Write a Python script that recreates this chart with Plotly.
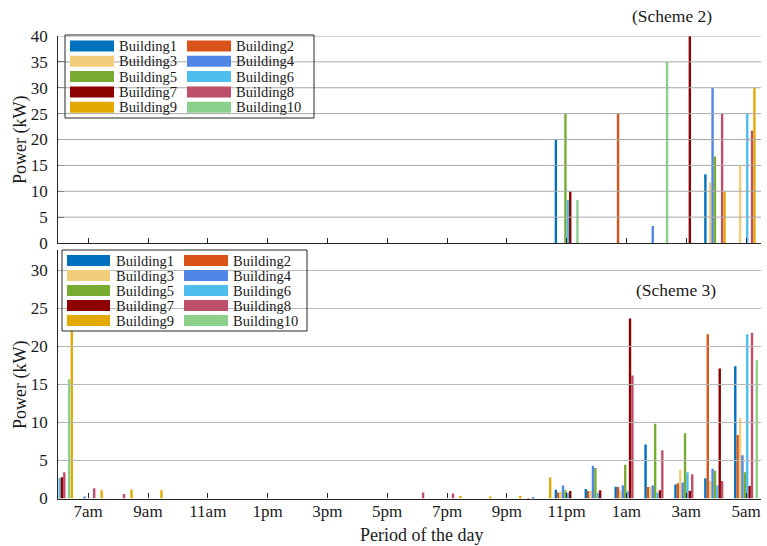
import plotly.graph_objects as go

W, H = 767, 546
FONT = "Liberation Serif"

# Hourly slots: 1 = 6am ... 24 = 5am (next day)
slots = list(range(1, 25))
tick_slots = list(range(2, 25, 2))
tick_labels = ["7am", "9am", "11am", "1pm", "3pm", "5pm",
               "7pm", "9pm", "11pm", "1am", "3am", "5am"]

buildings = ["Building1", "Building2", "Building3", "Building4", "Building5",
             "Building6", "Building7", "Building8", "Building9", "Building10"]
colors = ["#0072BD", "#D95319", "#F2CE7A", "#5286E6", "#77AC30",
          "#4DBEEE", "#8E0000", "#BE4F6A", "#E2A900", "#8CD18B"]

# Scheme 2 power per building (kW), one value per hourly slot
s2_b1 = [0, 0, 0, 0, 0, 0, 0, 0, 0, 0, 0, 0, 0, 0, 0, 0, 0, 20, 0, 0, 0, 0, 13.3, 0]
s2_b2 = [0, 0, 0, 0, 0, 0, 0, 0, 0, 0, 0, 0, 0, 0, 0, 0, 0, 0, 0, 25, 0, 0, 0, 0]
s2_b3 = [0, 0, 0, 0, 0, 0, 0, 0, 0, 0, 0, 0, 0, 0, 0, 0, 0, 0, 0, 0, 0, 0, 11.7, 15]
s2_b4 = [0, 0, 0, 0, 0, 0, 0, 0, 0, 0, 0, 0, 0, 0, 0, 0, 0, 0, 0, 0, 3.3, 0, 30, 0]
s2_b5 = [0, 0, 0, 0, 0, 0, 0, 0, 0, 0, 0, 0, 0, 0, 0, 0, 0, 25, 0, 0, 0, 0, 16.7, 0]
s2_b6 = [0, 0, 0, 0, 0, 0, 0, 0, 0, 0, 0, 0, 0, 0, 0, 0, 0, 8.3, 0, 0, 0, 0, 0, 25]
s2_b7 = [0, 0, 0, 0, 0, 0, 0, 0, 0, 0, 0, 0, 0, 0, 0, 0, 0, 10, 0, 0, 0, 40, 0, 0]
s2_b8 = [0, 0, 0, 0, 0, 0, 0, 0, 0, 0, 0, 0, 0, 0, 0, 0, 0, 0, 0, 0, 0, 0, 25, 21.7]
s2_b9 = [0, 0, 0, 0, 0, 0, 0, 0, 0, 0, 0, 0, 0, 0, 0, 0, 0, 0, 0, 0, 0, 0, 10, 30]
s2_b10 = [0, 0, 0, 0, 0, 0, 0, 0, 0, 0, 0, 0, 0, 0, 0, 0, 0, 8.3, 0, 0, 35, 0, 0, 0]

# Scheme 3 power per building (kW), one value per hourly slot
s3_b1 = [0, 0, 0, 0, 0, 0, 0, 0, 0, 0, 0, 0, 0, 0, 0, 0, 0, 1.15, 1.25, 1.55, 7.1, 1.85, 2.65, 17.4]
s3_b2 = [0, 0, 0, 0, 0, 0, 0, 0, 0, 0, 0, 0, 0, 0, 0, 0, 0.05, 0.8, 1.0, 1.5, 1.5, 2.0, 21.6, 8.35]
s3_b3 = [0, 0, 0, 0, 0, 0, 0, 0, 0, 0, 0, 0, 0, 0, 0, 0, 0, 0.9, 1.0, 1.0, 1.5, 3.75, 2.3, 10.6]
s3_b4 = [0, 0.25, 0, 0, 0, 0, 0, 0, 0, 0, 0, 0, 0, 0, 0, 0, 0.2, 1.7, 4.3, 1.75, 1.7, 2.1, 3.9, 5.7]
s3_b5 = [0, 0, 0, 0, 0, 0, 0, 0, 0, 0, 0, 0, 0, 0, 0, 0, 0, 1.1, 4.0, 4.45, 9.85, 8.6, 3.65, 3.45]
s3_b6 = [2.65, 0, 0, 0, 0, 0, 0, 0, 0, 0, 0, 0, 0, 0, 0, 0, 0, 0.75, 0.75, 1.0, 0.8, 3.45, 1.7, 21.6]
s3_b7 = [2.8, 0, 0, 0, 0, 0, 0, 0, 0, 0, 0, 0, 0, 0, 0, 0, 0, 1.0, 1.1, 23.7, 1.1, 1.0, 17.1, 1.65]
s3_b8 = [3.45, 1.35, 0.6, 0, 0, 0, 0, 0, 0, 0, 0, 0, 0.8, 0.65, 0, 0, 0, 0, 0, 16.2, 6.35, 3.2, 2.3, 21.8]
s3_b9 = [28, 1.1, 1.2, 1.1, 0, 0, 0, 0, 0, 0, 0, 0, 0, 0.33, 0.25, 0.33, 2.75, 0, 0, 0, 0, 0, 0, 0]
s3_b10 = [15.7, 0, 0, 0, 0, 0, 0, 0, 0, 0, 0, 0, 0, 0, 0, 0, 0, 0, 0, 0, 0, 0, 0, 18.2]

scheme2 = [s2_b1, s2_b2, s2_b3, s2_b4, s2_b5, s2_b6, s2_b7, s2_b8, s2_b9, s2_b10]
scheme3 = [s3_b1, s3_b2, s3_b3, s3_b4, s3_b5, s3_b6, s3_b7, s3_b8, s3_b9, s3_b10]

# bar geometry inside each hourly group (in slot units)
BAR_W = 0.08
GROUP_W = 0.8
offsets2 = [-GROUP_W / 2 + i * BAR_W for i in range(10)]
offsets3 = list(offsets2)
offsets3[8] = 0.41   # Building9 bars sit to the right of their group in scheme 3


def px(x):
    return x / W


def py(y):
    return 1 - y / H


fig = go.Figure()

for i, name in enumerate(buildings):
    fig.add_trace(go.Bar(x=slots, y=scheme2[i], name=name, offset=offsets2[i], width=BAR_W,
                         marker=dict(color=colors[i], line=dict(width=0)),
                         xaxis="x", yaxis="y", showlegend=False))
for i, name in enumerate(buildings):
    fig.add_trace(go.Bar(x=slots, y=scheme3[i], name=name, offset=offsets3[i], width=BAR_W,
                         marker=dict(color=colors[i], line=dict(width=0)),
                         xaxis="x2", yaxis="y2", showlegend=False))

x_dom = [px(58.3), px(761)]
top_dom = [py(243), py(36)]
bot_dom = [py(498.5), py(250)]

axis_line = "#262626"
tick_font = dict(family=FONT, size=17, color="#1a1a1a")

common_x = dict(domain=x_dom, range=[1, 24.5], tickmode="array", tickvals=tick_slots,
                ticks="inside", ticklen=5, tickwidth=1, tickcolor=axis_line,
                showline=True, linecolor=axis_line, linewidth=1.2,
                showgrid=False, zeroline=False)
common_y = dict(ticks="inside", ticklen=6, tickwidth=1, tickcolor=axis_line,
                showline=True, linecolor=axis_line, linewidth=1.2,
                showgrid=False, zeroline=False, tickfont=tick_font,
                ticklabelstandoff=6)

fig.update_layout(
    width=W, height=H,
    margin=dict(l=0, r=0, t=0, b=0, autoexpand=False),
    paper_bgcolor="white", plot_bgcolor="white",
    barmode="overlay",
    font=dict(family=FONT, size=17, color="#1a1a1a"),
    xaxis=dict(common_x, anchor="y", showticklabels=False),
    yaxis=dict(common_y, domain=top_dom, anchor="x", range=[0, 40],
               tickvals=list(range(0, 41, 5))),
    xaxis2=dict(common_x, anchor="y2", showticklabels=True, ticktext=tick_labels,
                tickfont=tick_font, ticklabelstandoff=-3),
    yaxis2=dict(common_y, domain=bot_dom, anchor="x2", range=[0, 32.7],
                tickvals=list(range(0, 31, 5))),
)

shapes = []
annotations = []


def legend_background(box):
    x0, y0, x1, y1 = box
    shapes.append(dict(type="rect", xref="paper", yref="paper", layer="above",
                       x0=px(x0), x1=px(x1), y0=py(y1), y1=py(y0),
                       fillcolor="white", line=dict(width=0)))


def add_grid(yaxis_name, xaxis_name, values, color):
    # grid drawn on top of the bars and legend background
    for v in values:
        shapes.append(dict(type="line", xref=f"{xaxis_name} domain", yref=yaxis_name,
                           layer="above", x0=0, x1=1, y0=v, y1=v,
                           line=dict(color=color, width=1)))


def legend_items(box, sw_x, txt_x, row_y, row_step):
    x0, y0, x1, y1 = box
    for i, name in enumerate(buildings):
        col, row = i % 2, i // 2
        cy = row_y + row * row_step
        shapes.append(dict(type="rect", xref="paper", yref="paper", layer="above",
                           x0=px(sw_x[col][0]), x1=px(sw_x[col][1]),
                           y0=py(cy + 5.5), y1=py(cy - 5.5),
                           fillcolor=colors[i], line=dict(width=0)))
        annotations.append(dict(text=name, xref="paper", yref="paper",
                                x=px(txt_x[col]), y=py(cy), xanchor="left", yanchor="middle",
                                showarrow=False, font=dict(family=FONT, size=14.5, color="#1a1a1a")))
    shapes.append(dict(type="rect", xref="paper", yref="paper", layer="above",
                       x0=px(x0), x1=px(x1), y0=py(y1), y1=py(y0),
                       fillcolor="rgba(0,0,0,0)", line=dict(color=axis_line, width=1)))


top_box = (65, 35, 314, 118)
bot_box = (62, 250, 307, 331)
legend_background(top_box)
legend_background(bot_box)

add_grid("y", "x", list(range(5, 41, 5)), "#a9a9a9")
add_grid("y2", "x2", list(range(5, 31, 5)), "#b8b8b8")

legend_items(top_box, [(70, 114), (187, 231)], [117, 234], 46, 15.3)
legend_items(bot_box, [(67, 110), (184, 228)], [114, 231], 260.5, 15.0)

annotations += [
    dict(text="(Scheme 2)", xref="paper", yref="paper", x=px(672), y=py(16),
         xanchor="center", yanchor="middle", showarrow=False, font=dict(size=17.5)),
    dict(text="(Scheme 3)", xref="paper", yref="paper", x=px(676), y=py(290),
         xanchor="center", yanchor="middle", showarrow=False, font=dict(size=17.5)),
    dict(text="Power (kW)", xref="paper", yref="paper", x=px(20), y=py(140),
         xanchor="center", yanchor="middle", textangle=-90, showarrow=False, font=dict(size=18)),
    dict(text="Power (kW)", xref="paper", yref="paper", x=px(20), y=py(385),
         xanchor="center", yanchor="middle", textangle=-90, showarrow=False, font=dict(size=18)),
    dict(text="Period of the day", xref="paper", yref="paper", x=px(421), y=py(535),
         xanchor="center", yanchor="middle", showarrow=False, font=dict(size=18)),
]

fig.update_layout(shapes=shapes, annotations=annotations)
fig.write_html("out.html")
